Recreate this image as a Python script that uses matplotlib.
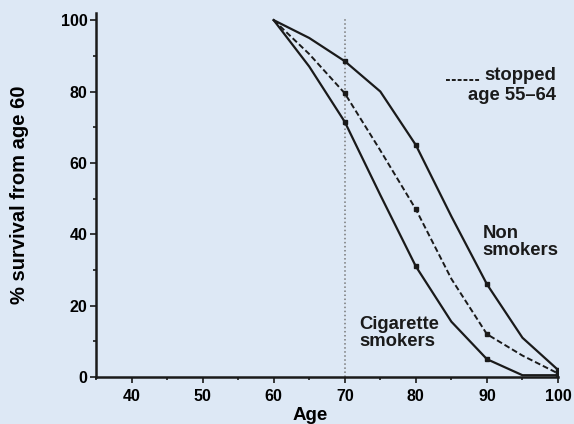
import numpy as np
import matplotlib
matplotlib.use("Agg")
import matplotlib.pyplot as plt
from matplotlib.ticker import MultipleLocator

# survival curves
ages = [60, 65, 70, 75, 80, 85, 90, 95, 100]
non_smokers = [100, 95, 88.5, 80, 65, 45, 26, 11, 2]
stopped = [100, 90.5, 79.5, 63.5, 47, 27.5, 12, 6, 1]
smokers = [100, 87, 71.5, 51, 31, 15.5, 5, 0.5, 0.5]
marker_idx = [2, 4, 6, 8]

bg = '#dde8f5'
ink = '#1a1a1a'
plt.rcParams['font.family'] = ['Liberation Sans', 'DejaVu Sans']
plt.rcParams['font.weight'] = 'bold'

fig = plt.figure(figsize=(5.74, 4.24), dpi=100, facecolor=bg)
ax = fig.add_axes([96/574, 1-377/424, 462/574, 364/424], facecolor=bg)

ax.axvline(70, ymin=0, ymax=101/102, color='#777777', ls=':', lw=1.1, zorder=1)

ax.plot(ages, non_smokers, color=ink, lw=1.6, marker='s', ms=3.5, markevery=marker_idx)
ax.plot(ages, stopped, color=ink, lw=1.4, ls=(0, (3, 1.5)), marker='s', ms=3, markevery=marker_idx)
ax.plot(ages, smokers, color=ink, lw=1.6, marker='s', ms=3.5, markevery=marker_idx)

ax.set_xlim(35, 100)
ax.set_ylim(0, 102)
ax.xaxis.set_minor_locator(MultipleLocator(5))
ax.yaxis.set_major_locator(MultipleLocator(20))
ax.yaxis.set_minor_locator(MultipleLocator(10))
ax.set_xticks([40, 50, 60, 70, 80, 90, 100])

for s in ['top', 'right']:
    ax.spines[s].set_visible(False)
for s in ['left', 'bottom']:
    ax.spines[s].set_linewidth(1.8)
    ax.spines[s].set_color(ink)

ax.tick_params(which='major', length=4.5, width=1.2, color=ink, labelsize=11.5, pad=1.5)
ax.tick_params(which='minor', length=2.5, width=1.2, color=ink)
ax.tick_params(axis='x', pad=4)

ax.set_xlabel('Age', fontsize=13.5, fontweight='bold', x=(310-96)/462, labelpad=2)
ax.set_ylabel('% survival from age 60', fontsize=14.5, fontweight='bold', labelpad=23)

# legend for the dashed line
ax.plot([84.3, 89.0], [83.2, 83.2], color=ink, lw=1.4, ls=(0, (2, 1)), clip_on=False)
ax.text(99.7, 84.5, 'stopped', ha='right', va='center', fontsize=13.3, fontweight='bold', color=ink)
ax.text(99.7, 79.0, 'age 55\u201364', ha='right', va='center', fontsize=13.3, fontweight='bold', color=ink)

ax.text(89.4, 37.8, 'Non\nsmokers', ha='left', va='center', fontsize=13.3, fontweight='bold',
        color=ink, linespacing=1.0)
ax.text(72.0, 12.3, 'Cigarette\nsmokers', ha='left', va='center', fontsize=13.3, fontweight='bold',
        color=ink, linespacing=0.95)

fig.savefig('out.png', dpi=100, facecolor=bg)
